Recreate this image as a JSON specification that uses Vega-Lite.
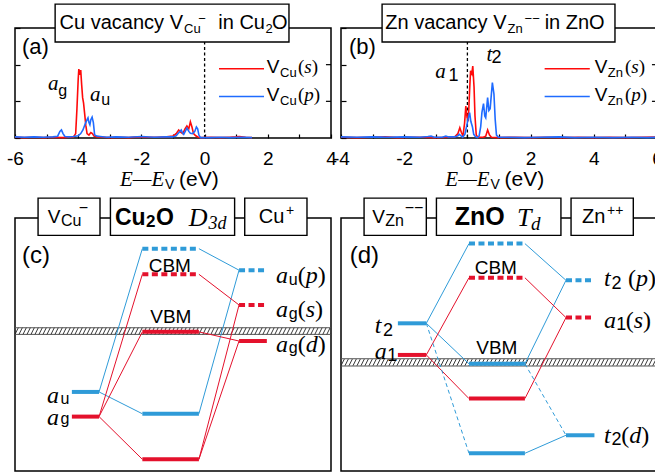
{
"$schema":"https://vega.github.io/schema/vega-lite/v6.json",
"padding":{"left":5,"top":2,"right":0,"bottom":0},
"config":{"view":{"stroke":"black","strokeWidth":1.5}},
"datasets":{
"dos_a":[
{"E":-6,"dos":0.02,"orb":"s"},{"E":-5.7,"dos":0.01,"orb":"s"},{"E":-5.4,"dos":0.02,"orb":"s"},{"E":-5.1,"dos":0.01,"orb":"s"},{"E":-4.8,"dos":0.02,"orb":"s"},{"E":-4.5,"dos":0.01,"orb":"s"},{"E":-4.3,"dos":0.02,"orb":"s"},{"E":-4.15,"dos":0.03,"orb":"s"},{"E":-4.08,"dos":0.12,"orb":"s"},{"E":-4.04,"dos":0.8,"orb":"s"},{"E":-4.0,"dos":1.6,"orb":"s"},{"E":-3.98,"dos":1.88,"orb":"s"},{"E":-3.95,"dos":1.72,"orb":"s"},{"E":-3.92,"dos":1.85,"orb":"s"},{"E":-3.89,"dos":1.45,"orb":"s"},{"E":-3.86,"dos":1.1,"orb":"s"},{"E":-3.83,"dos":0.95,"orb":"s"},{"E":-3.8,"dos":0.7,"orb":"s"},{"E":-3.76,"dos":0.35,"orb":"s"},{"E":-3.72,"dos":0.12,"orb":"s"},{"E":-3.66,"dos":0.08,"orb":"s"},{"E":-3.6,"dos":0.15,"orb":"s"},{"E":-3.55,"dos":0.12,"orb":"s"},{"E":-3.5,"dos":0.05,"orb":"s"},{"E":-3.4,"dos":0.03,"orb":"s"},{"E":-3.2,"dos":0.02,"orb":"s"},{"E":-3.0,"dos":0.01,"orb":"s"},{"E":-2.7,"dos":0.02,"orb":"s"},{"E":-2.4,"dos":0.01,"orb":"s"},{"E":-2.1,"dos":0.03,"orb":"s"},{"E":-1.8,"dos":0.02,"orb":"s"},{"E":-1.5,"dos":0.02,"orb":"s"},{"E":-1.2,"dos":0.03,"orb":"s"},{"E":-1.0,"dos":0.05,"orb":"s"},{"E":-0.9,"dos":0.12,"orb":"s"},{"E":-0.82,"dos":0.22,"orb":"s"},{"E":-0.75,"dos":0.15,"orb":"s"},{"E":-0.69,"dos":0.12,"orb":"s"},{"E":-0.62,"dos":0.25,"orb":"s"},{"E":-0.56,"dos":0.33,"orb":"s"},{"E":-0.5,"dos":0.25,"orb":"s"},{"E":-0.45,"dos":0.44,"orb":"s"},{"E":-0.4,"dos":0.3,"orb":"s"},{"E":-0.35,"dos":0.12,"orb":"s"},{"E":-0.28,"dos":0.06,"orb":"s"},{"E":-0.2,"dos":0.02,"orb":"s"},{"E":-0.1,"dos":0.01,"orb":"s"},{"E":0.2,"dos":0.02,"orb":"s"},{"E":0.5,"dos":0.01,"orb":"s"},{"E":0.8,"dos":0.02,"orb":"s"},{"E":1.0,"dos":0.03,"orb":"s"},{"E":1.1,"dos":0.04,"orb":"s"},{"E":1.3,"dos":0.02,"orb":"s"},{"E":1.5,"dos":0.01,"orb":"s"},
{"E":-6,"dos":0.03,"orb":"p"},{"E":-5.7,"dos":0.02,"orb":"p"},{"E":-5.4,"dos":0.03,"orb":"p"},{"E":-5.1,"dos":0.02,"orb":"p"},{"E":-4.8,"dos":0.03,"orb":"p"},{"E":-4.65,"dos":0.05,"orb":"p"},{"E":-4.58,"dos":0.18,"orb":"p"},{"E":-4.53,"dos":0.22,"orb":"p"},{"E":-4.48,"dos":0.12,"orb":"p"},{"E":-4.42,"dos":0.04,"orb":"p"},{"E":-4.3,"dos":0.03,"orb":"p"},{"E":-4.15,"dos":0.04,"orb":"p"},{"E":-4.0,"dos":0.06,"orb":"p"},{"E":-3.92,"dos":0.12,"orb":"p"},{"E":-3.85,"dos":0.22,"orb":"p"},{"E":-3.78,"dos":0.38,"orb":"p"},{"E":-3.72,"dos":0.5,"orb":"p"},{"E":-3.69,"dos":0.55,"orb":"p"},{"E":-3.66,"dos":0.42,"orb":"p"},{"E":-3.63,"dos":0.36,"orb":"p"},{"E":-3.6,"dos":0.5,"orb":"p"},{"E":-3.56,"dos":0.57,"orb":"p"},{"E":-3.52,"dos":0.42,"orb":"p"},{"E":-3.48,"dos":0.08,"orb":"p"},{"E":-3.4,"dos":0.05,"orb":"p"},{"E":-3.3,"dos":0.04,"orb":"p"},{"E":-3.1,"dos":0.02,"orb":"p"},{"E":-2.8,"dos":0.03,"orb":"p"},{"E":-2.4,"dos":0.02,"orb":"p"},{"E":-2.0,"dos":0.04,"orb":"p"},{"E":-1.6,"dos":0.02,"orb":"p"},{"E":-1.2,"dos":0.03,"orb":"p"},{"E":-1.0,"dos":0.03,"orb":"p"},{"E":-0.9,"dos":0.06,"orb":"p"},{"E":-0.84,"dos":0.12,"orb":"p"},{"E":-0.78,"dos":0.18,"orb":"p"},{"E":-0.74,"dos":0.22,"orb":"p"},{"E":-0.7,"dos":0.14,"orb":"p"},{"E":-0.66,"dos":0.1,"orb":"p"},{"E":-0.6,"dos":0.2,"orb":"p"},{"E":-0.56,"dos":0.27,"orb":"p"},{"E":-0.5,"dos":0.18,"orb":"p"},{"E":-0.45,"dos":0.13,"orb":"p"},{"E":-0.38,"dos":0.12,"orb":"p"},{"E":-0.31,"dos":0.18,"orb":"p"},{"E":-0.26,"dos":0.3,"orb":"p"},{"E":-0.22,"dos":0.25,"orb":"p"},{"E":-0.18,"dos":0.08,"orb":"p"},{"E":-0.13,"dos":0.01,"orb":"p"},{"E":0.2,"dos":0.01,"orb":"p"},{"E":0.5,"dos":0.02,"orb":"p"},{"E":0.8,"dos":0.01,"orb":"p"},{"E":1.2,"dos":0.02,"orb":"p"},{"E":1.5,"dos":0.01,"orb":"p"}],
"dos_b":[
{"E":-4,"dos":0.02,"orb":"s"},{"E":-3.5,"dos":0.01,"orb":"s"},{"E":-3,"dos":0.02,"orb":"s"},{"E":-2.6,"dos":0.03,"orb":"s"},{"E":-2.2,"dos":0.01,"orb":"s"},{"E":-1.8,"dos":0.02,"orb":"s"},{"E":-1.4,"dos":0.02,"orb":"s"},{"E":-1.0,"dos":0.01,"orb":"s"},{"E":-0.6,"dos":0.02,"orb":"s"},{"E":-0.4,"dos":0.03,"orb":"s"},{"E":-0.3,"dos":0.12,"orb":"s"},{"E":-0.24,"dos":0.28,"orb":"s"},{"E":-0.19,"dos":0.15,"orb":"s"},{"E":-0.14,"dos":0.06,"orb":"s"},{"E":-0.09,"dos":0.4,"orb":"s"},{"E":-0.05,"dos":0.87,"orb":"s"},{"E":-0.01,"dos":0.55,"orb":"s"},{"E":0.03,"dos":0.5,"orb":"s"},{"E":0.07,"dos":1.3,"orb":"s"},{"E":0.1,"dos":1.83,"orb":"s"},{"E":0.14,"dos":1.75,"orb":"s"},{"E":0.17,"dos":1.96,"orb":"s"},{"E":0.21,"dos":1.4,"orb":"s"},{"E":0.24,"dos":0.6,"orb":"s"},{"E":0.28,"dos":0.08,"orb":"s"},{"E":0.33,"dos":0.02,"orb":"s"},{"E":0.5,"dos":0.02,"orb":"s"},{"E":0.58,"dos":0.05,"orb":"s"},{"E":0.64,"dos":0.22,"orb":"s"},{"E":0.7,"dos":0.08,"orb":"s"},{"E":0.76,"dos":0.02,"orb":"s"},{"E":1.0,"dos":0.01,"orb":"s"},{"E":1.5,"dos":0.02,"orb":"s"},{"E":2,"dos":0.01,"orb":"s"},{"E":2.5,"dos":0.02,"orb":"s"},{"E":3,"dos":0.01,"orb":"s"},{"E":3.5,"dos":0.02,"orb":"s"},{"E":4,"dos":0.01,"orb":"s"},{"E":4.5,"dos":0.02,"orb":"s"},{"E":5,"dos":0.01,"orb":"s"},{"E":5.5,"dos":0.02,"orb":"s"},{"E":6,"dos":0.03,"orb":"s"},
{"E":-4,"dos":0.03,"orb":"p"},{"E":-3.5,"dos":0.02,"orb":"p"},{"E":-3,"dos":0.03,"orb":"p"},{"E":-2.5,"dos":0.02,"orb":"p"},{"E":-2,"dos":0.03,"orb":"p"},{"E":-1.5,"dos":0.02,"orb":"p"},{"E":-1.25,"dos":0.04,"orb":"p"},{"E":-1.15,"dos":0.05,"orb":"p"},{"E":-1.05,"dos":0.02,"orb":"p"},{"E":-0.8,"dos":0.02,"orb":"p"},{"E":-0.68,"dos":0.05,"orb":"p"},{"E":-0.6,"dos":0.03,"orb":"p"},{"E":-0.4,"dos":0.03,"orb":"p"},{"E":-0.3,"dos":0.06,"orb":"p"},{"E":-0.26,"dos":0.1,"orb":"p"},{"E":-0.2,"dos":0.06,"orb":"p"},{"E":-0.15,"dos":0.02,"orb":"p"},{"E":-0.08,"dos":0.1,"orb":"p"},{"E":-0.03,"dos":0.3,"orb":"p"},{"E":0.03,"dos":0.55,"orb":"p"},{"E":0.07,"dos":0.69,"orb":"p"},{"E":0.11,"dos":0.45,"orb":"p"},{"E":0.16,"dos":0.3,"orb":"p"},{"E":0.2,"dos":0.1,"orb":"p"},{"E":0.26,"dos":0.03,"orb":"p"},{"E":0.32,"dos":0.01,"orb":"p"},{"E":0.37,"dos":0.05,"orb":"p"},{"E":0.42,"dos":0.3,"orb":"p"},{"E":0.46,"dos":0.7,"orb":"p"},{"E":0.51,"dos":0.94,"orb":"p"},{"E":0.55,"dos":0.6,"orb":"p"},{"E":0.58,"dos":0.55,"orb":"p"},{"E":0.64,"dos":1.1,"orb":"p"},{"E":0.68,"dos":0.75,"orb":"p"},{"E":0.72,"dos":0.8,"orb":"p"},{"E":0.79,"dos":1.51,"orb":"p"},{"E":0.84,"dos":1.2,"orb":"p"},{"E":0.88,"dos":0.5,"orb":"p"},{"E":0.92,"dos":0.08,"orb":"p"},{"E":0.98,"dos":0.02,"orb":"p"},{"E":1.3,"dos":0.02,"orb":"p"},{"E":1.8,"dos":0.01,"orb":"p"},{"E":2.3,"dos":0.02,"orb":"p"},{"E":2.9,"dos":0.03,"orb":"p"},{"E":3.4,"dos":0.01,"orb":"p"},{"E":4,"dos":0.02,"orb":"p"},{"E":4.6,"dos":0.01,"orb":"p"},{"E":5.2,"dos":0.02,"orb":"p"},{"E":5.7,"dos":0.01,"orb":"p"},{"E":6,"dos":0.02,"orb":"p"}],
"levels_c":[
{"x":1.8,"x2":2.66,"E":2.5,"irrep":"a_u","state":"occupied"},
{"x":1.8,"x2":2.66,"E":1.72,"irrep":"a_g","state":"occupied"},
{"x":4.03,"x2":5.82,"E":7.03,"irrep":"a_u","state":"empty"},
{"x":4.03,"x2":5.82,"E":6.22,"irrep":"a_g","state":"empty"},
{"x":4.03,"x2":5.82,"E":4.4,"irrep":"a_g","state":"occupied"},
{"x":4.03,"x2":5.82,"E":1.81,"irrep":"a_u","state":"occupied"},
{"x":4.03,"x2":5.82,"E":0.37,"irrep":"a_g","state":"occupied"},
{"x":7.09,"x2":7.97,"E":6.35,"irrep":"a_u","state":"empty"},
{"x":7.09,"x2":7.97,"E":5.25,"irrep":"a_g","state":"empty"},
{"x":7.09,"x2":7.97,"E":4.11,"irrep":"a_g","state":"occupied"}],
"links_c":[
{"x":2.66,"E":2.5,"x2":4.03,"E2":7.03,"irrep":"a_u","style":"solid"},
{"x":2.66,"E":2.5,"x2":4.03,"E2":1.81,"irrep":"a_u","style":"solid"},
{"x":5.82,"E":7.03,"x2":7.09,"E2":6.35,"irrep":"a_u","style":"solid"},
{"x":5.82,"E":1.81,"x2":7.09,"E2":6.35,"irrep":"a_u","style":"solid"},
{"x":2.66,"E":1.72,"x2":4.03,"E2":6.22,"irrep":"a_g","style":"solid"},
{"x":2.66,"E":1.72,"x2":4.03,"E2":4.4,"irrep":"a_g","style":"solid"},
{"x":2.66,"E":1.72,"x2":4.03,"E2":0.37,"irrep":"a_g","style":"solid"},
{"x":5.82,"E":6.22,"x2":7.09,"E2":5.25,"irrep":"a_g","style":"solid"},
{"x":5.82,"E":4.4,"x2":7.09,"E2":4.11,"irrep":"a_g","style":"solid"},
{"x":5.82,"E":0.37,"x2":7.09,"E2":5.25,"irrep":"a_g","style":"solid"},
{"x":5.82,"E":0.37,"x2":7.09,"E2":4.11,"irrep":"a_g","style":"solid"}],
"levels_d":[
{"x":1.8,"x2":2.7,"E":4.67,"irrep":"t_2","state":"occupied"},
{"x":1.8,"x2":2.7,"E":3.67,"irrep":"a_1","state":"occupied"},
{"x":4.05,"x2":5.82,"E":7.19,"irrep":"t_2","state":"empty"},
{"x":4.05,"x2":5.82,"E":6.11,"irrep":"a_1","state":"empty"},
{"x":4.05,"x2":5.82,"E":3.39,"irrep":"t_2","state":"occupied"},
{"x":4.05,"x2":5.82,"E":2.29,"irrep":"a_1","state":"occupied"},
{"x":4.05,"x2":5.82,"E":0.56,"irrep":"t_2","state":"occupied"},
{"x":7.12,"x2":8.02,"E":6.03,"irrep":"t_2","state":"empty"},
{"x":7.12,"x2":8.02,"E":4.85,"irrep":"a_1","state":"empty"},
{"x":7.12,"x2":8.02,"E":1.13,"irrep":"t_2","state":"occupied"}],
"links_d":[
{"x":2.7,"E":4.67,"x2":4.05,"E2":7.19,"irrep":"t_2","style":"solid"},
{"x":2.7,"E":4.67,"x2":4.05,"E2":3.39,"irrep":"t_2","style":"solid"},
{"x":5.82,"E":7.19,"x2":7.12,"E2":6.03,"irrep":"t_2","style":"solid"},
{"x":5.82,"E":3.39,"x2":7.12,"E2":6.03,"irrep":"t_2","style":"solid"},
{"x":5.82,"E":0.56,"x2":7.12,"E2":1.13,"irrep":"t_2","style":"solid"},
{"x":2.7,"E":4.67,"x2":4.05,"E2":0.56,"irrep":"t_2","style":"dashed"},
{"x":5.82,"E":3.39,"x2":7.12,"E2":1.13,"irrep":"t_2","style":"dashed"},
{"x":2.7,"E":3.67,"x2":4.05,"E2":6.11,"irrep":"a_1","style":"solid"},
{"x":2.7,"E":3.67,"x2":4.05,"E2":2.29,"irrep":"a_1","style":"solid"},
{"x":5.82,"E":6.11,"x2":7.12,"E2":4.85,"irrep":"a_1","style":"solid"},
{"x":5.82,"E":2.29,"x2":7.12,"E2":4.85,"irrep":"a_1","style":"solid"}]
},
"resolve":{"scale":{"color":"independent"}},
"columns":2,
"spacing":{"row":80,"column":10},
"bounds":"flush",
"concat":[
{"width":316,"height":110,
"encoding":{
"x":{"field":"E","type":"quantitative","scale":{"domain":[-6,4],"nice":false,"zero":false},"axis":{"values":[-6,-5,-4,-3,-2,-1,0,1,2,3,4],"labelExpr":"datum.value % 2 == 0 ? '' + datum.value : ''","title":null,"tickSize":-4,"labelPadding":15,"labelFontSize":19,"labelFont":"Liberation Sans","labelColor":"black","tickColor":"black","tickWidth":1.2,"domain":false,"grid":false,"labelFlush":false,"labelOverlap":false}},
"y":{"field":"dos","type":"quantitative","scale":{"domain":[0,3],"nice":false,"zero":false},"axis":{"values":[0,1,2,3],"labels":false,"title":null,"tickSize":-5,"tickColor":"black","tickWidth":1.2,"domain":false,"grid":false}}},
"layer":[
{"data":{"values":[{"E":3.84,"E2":4,"dos":1},{"E":3.84,"E2":4,"dos":2}]},"mark":{"type":"rule","color":"black","strokeWidth":1.2},"encoding":{"x2":{"field":"E2"}}},
{"data":{"values":[{"E":0,"dos":0,"dos2":3}]},"mark":{"type":"rule","strokeDash":[3,2.5],"color":"black","strokeWidth":1.3},"encoding":{"y2":{"field":"dos2"}}},
{"data":{"name":"dos_a"},"mark":{"type":"line","strokeWidth":1.6},"encoding":{"color":{"field":"orb","type":"nominal","scale":{"domain":["s","p"],"range":["#ff0a0a","#1f6bff"]},"legend":null}}},
{"data":{"values":[{"E":0.456,"E2":1.88,"dos":1.89,"orb":"s"},{"E":0.456,"E2":1.88,"dos":1.13,"orb":"p"}]},"mark":{"type":"rule","strokeWidth":1.6},"encoding":{"x2":{"field":"E2"},"color":{"field":"orb","type":"nominal","scale":{"domain":["s","p"],"range":["#ff0a0a","#1f6bff"]},"legend":null}}},
{"data":{"values":[{"E":-4.73,"E2":2.67,"dos":2.62,"dos2":3.65}]},"mark":{"type":"rect","fill":"white","stroke":"black","strokeWidth":1.4},"encoding":{"x2":{"field":"E2"},"y2":{"field":"dos2"}}},
{"data":{"values":[{"E":-0.684,"dos":2.965,"t":"Cu vacancy V"},{"E":1.911,"dos":2.965,"t":"in Cu"}]},"mark":{"type":"text","font":"Liberation Sans","fontSize":20,"align":"right","baseline":"alphabetic","fill":"black"},"encoding":{"text":{"field":"t"}}},
{"data":{"values":[{"E":2.133,"dos":2.965,"t":"O"}]},"mark":{"type":"text","font":"Liberation Sans","fontSize":20,"align":"left","baseline":"alphabetic","fill":"black"},"encoding":{"text":{"field":"t"}}},
{"data":{"values":[{"E":2.37,"dos":1.78,"t":"V"},{"E":2.37,"dos":1.01,"t":"V"}]},"mark":{"type":"text","font":"Liberation Sans","fontSize":19,"align":"right","baseline":"alphabetic","fill":"black"},"encoding":{"text":{"field":"t"}}},
{"data":{"values":[{"E":-0.652,"dos":2.872,"t":"Cu"},{"E":-0.2,"dos":3.128,"t":"−"},{"E":1.93,"dos":2.872,"t":"2"},{"E":2.386,"dos":1.664,"t":"Cu"},{"E":2.386,"dos":0.9,"t":"Cu"}]},"mark":{"type":"text","font":"Liberation Sans","fontSize":13,"align":"left","baseline":"alphabetic","fill":"black"},"encoding":{"text":{"field":"t"}}},
{"data":{"values":[{"E":2.956,"dos":1.78,"t":"("},{"E":3.389,"dos":1.78,"t":")"},{"E":2.956,"dos":1.01,"t":"("},{"E":3.456,"dos":1.01,"t":")"}]},"mark":{"type":"text","font":"Liberation Serif","fontSize":19,"align":"left","baseline":"alphabetic","fill":"black"},"encoding":{"text":{"field":"t"}}},
{"data":{"values":[{"E":3.155,"dos":1.78,"t":"s"},{"E":3.155,"dos":1.01,"t":"p"}]},"mark":{"type":"text","font":"Liberation Serif","fontStyle":"italic","fontSize":19,"align":"left","baseline":"alphabetic","fill":"black"},"encoding":{"text":{"field":"t"}}},
{"data":{"values":[{"E":-4.956,"dos":1.3,"t":"a"},{"E":-3.627,"dos":1.01,"t":"a"},{"E":-2.677,"dos":-1.309,"t":"E—E"}]},"mark":{"type":"text","font":"Liberation Serif","fontStyle":"italic","fontSize":21,"align":"left","baseline":"alphabetic","fill":"black"},"encoding":{"text":{"field":"t"}}},
{"data":{"values":[{"E":-4.63,"dos":1.146,"t":"g"},{"E":-3.27,"dos":0.9,"t":"u"}]},"mark":{"type":"text","font":"Liberation Sans","fontSize":16,"align":"left","baseline":"alphabetic","fill":"black"},"encoding":{"text":{"field":"t"}}},
{"data":{"values":[{"E":-1.253,"dos":-1.39,"t":"V"}]},"mark":{"type":"text","font":"Liberation Sans","fontSize":14,"align":"left","baseline":"alphabetic","fill":"black"},"encoding":{"text":{"field":"t"}}},
{"data":{"values":[{"E":-0.81,"dos":-1.309,"t":"(eV)"}]},"mark":{"type":"text","font":"Liberation Sans","fontSize":21,"align":"left","baseline":"alphabetic","fill":"black"},"encoding":{"text":{"field":"t"}}},
{"data":{"values":[{"E":-5.78,"dos":2.29,"t":"(a)"}]},"mark":{"type":"text","font":"Liberation Sans","fontSize":22,"align":"left","baseline":"alphabetic","fill":"black"},"encoding":{"text":{"field":"t"}}}
]},
{"width":316,"height":110,
"encoding":{
"x":{"field":"E","type":"quantitative","scale":{"domain":[-4,6],"nice":false,"zero":false},"axis":{"values":[-4,-3,-2,-1,0,1,2,3,4,5,6],"labelExpr":"datum.value % 2 == 0 ? '' + datum.value : ''","title":null,"tickSize":-4,"labelPadding":15,"labelFontSize":19,"labelFont":"Liberation Sans","labelColor":"black","tickColor":"black","tickWidth":1.2,"domain":false,"grid":false,"labelFlush":false,"labelOverlap":false}},
"y":{"field":"dos","type":"quantitative","scale":{"domain":[0,3],"nice":false,"zero":false},"axis":{"values":[0,1,2,3],"labels":false,"title":null,"tickSize":-5,"tickColor":"black","tickWidth":1.2,"domain":false,"grid":false}}},
"layer":[
{"data":{"values":[{"E":5.84,"E2":6,"dos":1},{"E":5.84,"E2":6,"dos":2}]},"mark":{"type":"rule","color":"black","strokeWidth":1.2},"encoding":{"x2":{"field":"E2"}}},
{"data":{"values":[{"E":0,"dos":0,"dos2":3}]},"mark":{"type":"rule","strokeDash":[3,2.5],"color":"black","strokeWidth":1.3},"encoding":{"y2":{"field":"dos2"}}},
{"data":{"name":"dos_b"},"mark":{"type":"line","strokeWidth":1.6},"encoding":{"color":{"field":"orb","type":"nominal","scale":{"domain":["s","p"],"range":["#ff0a0a","#1f6bff"]},"legend":null}}},
{"data":{"values":[{"E":2.444,"E2":3.873,"dos":1.89,"orb":"s"},{"E":2.444,"E2":3.873,"dos":1.13,"orb":"p"}]},"mark":{"type":"rule","strokeWidth":1.6},"encoding":{"x2":{"field":"E2"},"color":{"field":"orb","type":"nominal","scale":{"domain":["s","p"],"range":["#ff0a0a","#1f6bff"]},"legend":null}}},
{"data":{"values":[{"E":-2.7,"E2":4.67,"dos":2.62,"dos2":3.65}]},"mark":{"type":"rect","fill":"white","stroke":"black","strokeWidth":1.4},"encoding":{"x2":{"field":"E2"},"y2":{"field":"dos2"}}},
{"data":{"values":[{"E":1.238,"dos":2.965,"t":"Zn vacancy V"}]},"mark":{"type":"text","font":"Liberation Sans","fontSize":20,"align":"right","baseline":"alphabetic","fill":"black"},"encoding":{"text":{"field":"t"}}},
{"data":{"values":[{"E":2.444,"dos":2.965,"t":"in ZnO"}]},"mark":{"type":"text","font":"Liberation Sans","fontSize":20,"align":"left","baseline":"alphabetic","fill":"black"},"encoding":{"text":{"field":"t"}}},
{"data":{"values":[{"E":4.43,"dos":1.78,"t":"V"},{"E":4.43,"dos":1.01,"t":"V"}]},"mark":{"type":"text","font":"Liberation Sans","fontSize":19,"align":"right","baseline":"alphabetic","fill":"black"},"encoding":{"text":{"field":"t"}}},
{"data":{"values":[{"E":1.27,"dos":2.872,"t":"Zn"},{"E":1.81,"dos":3.128,"t":"−−"},{"E":4.444,"dos":1.664,"t":"Zn"},{"E":4.444,"dos":0.9,"t":"Zn"}]},"mark":{"type":"text","font":"Liberation Sans","fontSize":13,"align":"left","baseline":"alphabetic","fill":"black"},"encoding":{"text":{"field":"t"}}},
{"data":{"values":[{"E":4.984,"dos":1.78,"t":"("},{"E":5.419,"dos":1.78,"t":")"},{"E":4.984,"dos":1.01,"t":"("},{"E":5.486,"dos":1.01,"t":")"}]},"mark":{"type":"text","font":"Liberation Serif","fontSize":19,"align":"left","baseline":"alphabetic","fill":"black"},"encoding":{"text":{"field":"t"}}},
{"data":{"values":[{"E":5.184,"dos":1.78,"t":"s"},{"E":5.184,"dos":1.01,"t":"p"}]},"mark":{"type":"text","font":"Liberation Serif","fontStyle":"italic","fontSize":19,"align":"left","baseline":"alphabetic","fill":"black"},"encoding":{"text":{"field":"t"}}},
{"data":{"values":[{"E":-1.016,"dos":1.645,"t":"a"},{"E":0.603,"dos":2.1,"t":"t"},{"E":-0.698,"dos":-1.309,"t":"E—E"}]},"mark":{"type":"text","font":"Liberation Serif","fontStyle":"italic","fontSize":21,"align":"left","baseline":"alphabetic","fill":"black"},"encoding":{"text":{"field":"t"}}},
{"data":{"values":[{"E":-0.6,"dos":1.555,"t":"1"},{"E":0.762,"dos":2.05,"t":"2"}]},"mark":{"type":"text","font":"Liberation Sans","fontSize":18,"align":"left","baseline":"alphabetic","fill":"black"},"encoding":{"text":{"field":"t"}}},
{"data":{"values":[{"E":0.73,"dos":-1.39,"t":"V"}]},"mark":{"type":"text","font":"Liberation Sans","fontSize":14,"align":"left","baseline":"alphabetic","fill":"black"},"encoding":{"text":{"field":"t"}}},
{"data":{"values":[{"E":1.175,"dos":-1.309,"t":"(eV)"}]},"mark":{"type":"text","font":"Liberation Sans","fontSize":21,"align":"left","baseline":"alphabetic","fill":"black"},"encoding":{"text":{"field":"t"}}},
{"data":{"values":[{"E":-3.75,"dos":2.29,"t":"(b)"}]},"mark":{"type":"text","font":"Liberation Sans","fontSize":22,"align":"left","baseline":"alphabetic","fill":"black"},"encoding":{"text":{"field":"t"}}}
]},
{"width":316,"height":253,
"encoding":{
"x":{"field":"x","type":"quantitative","scale":{"domain":[0,10],"nice":false,"zero":false},"axis":null},
"y":{"field":"E","type":"quantitative","scale":{"domain":[0,8],"nice":false,"zero":false},"axis":null}},
"layer":[
{"data":{"values":[{"x":0,"x2":10,"E":4.32},{"x":0,"x2":10,"E":4.53}]},"mark":{"type":"rule","color":"#555555","strokeWidth":1},"encoding":{"x2":{"field":"x2"}}},
{"data":{"values":[{"x":5,"E":4.425}]},"mark":{"type":"point","clip":true,"filled":false,"opacity":1,"color":"#222222","strokeWidth":0.9,"size":99856,"shape":"M-1 .021l.021 -.042m.0043 .042l.021 -.042m.0043 .042l.021 -.042m.0043 .042l.021 -.042m.0043 .042l.021 -.042m.0043 .042l.021 -.042m.0043 .042l.021 -.042m.0043 .042l.021 -.042m.0043 .042l.021 -.042m.0043 .042l.021 -.042m.0043 .042l.021 -.042m.0043 .042l.021 -.042m.0043 .042l.021 -.042m.0043 .042l.021 -.042m.0043 .042l.021 -.042m.0043 .042l.021 -.042m.0043 .042l.021 -.042m.0043 .042l.021 -.042m.0043 .042l.021 -.042m.0043 .042l.021 -.042m.0043 .042l.021 -.042m.0043 .042l.021 -.042m.0043 .042l.021 -.042m.0043 .042l.021 -.042m.0043 .042l.021 -.042m.0043 .042l.021 -.042m.0043 .042l.021 -.042m.0043 .042l.021 -.042m.0043 .042l.021 -.042m.0043 .042l.021 -.042m.0043 .042l.021 -.042m.0043 .042l.021 -.042m.0043 .042l.021 -.042m.0043 .042l.021 -.042m.0043 .042l.021 -.042m.0043 .042l.021 -.042m.0043 .042l.021 -.042m.0043 .042l.021 -.042m.0043 .042l.021 -.042m.0043 .042l.021 -.042m.0043 .042l.021 -.042m.0043 .042l.021 -.042m.0043 .042l.021 -.042m.0043 .042l.021 -.042m.0043 .042l.021 -.042m.0043 .042l.021 -.042m.0043 .042l.021 -.042m.0043 .042l.021 -.042m.0043 .042l.021 -.042m.0043 .042l.021 -.042m.0043 .042l.021 -.042m.0043 .042l.021 -.042m.0043 .042l.021 -.042m.0043 .042l.021 -.042m.0043 .042l.021 -.042m.0043 .042l.021 -.042m.0043 .042l.021 -.042m.0043 .042l.021 -.042m.0043 .042l.021 -.042m.0043 .042l.021 -.042m.0043 .042l.021 -.042m.0043 .042l.021 -.042m.0043 .042l.021 -.042m.0043 .042l.021 -.042m.0043 .042l.021 -.042m.0043 .042l.021 -.042m.0043 .042l.021 -.042m.0043 .042l.021 -.042m.0043 .042l.021 -.042m.0043 .042l.021 -.042m.0043 .042l.021 -.042m.0043 .042l.021 -.042m.0043 .042l.021 -.042m.0043 .042l.021 -.042m.0043 .042l.021 -.042m.0043 .042l.021 -.042m.0043 .042l.021 -.042m.0043 .042l.021 -.042m.0043 .042l.021 -.042m.0043 .042l.021 -.042m.0043 .042l.021 -.042m.0043 .042l.021 -.042m.0043 .042l.021 -.042m.0043 .042l.021 -.042m.0043 .042l.021 -.042m.0043 .042l.021 -.042m.0043 .042l.021 -.042m.0043 .042l.021 -.042m.0043 .042l.021 -.042m.0043 .042l.021 -.042m.0043 .042l.021 -.042m.0043 .042l.021 -.042m.0043 .042l.021 -.042"}},
{"data":{"name":"links_c"},"transform":[{"filter":"datum.style == 'solid'"}],"mark":{"type":"rule","strokeWidth":1},"encoding":{"x2":{"field":"x2"},"y2":{"field":"E2"},"color":{"field":"irrep","type":"nominal","scale":{"domain":["a_g","a_u","a_1","t_2"],"range":["#e4112c","#2f9bd8","#e4112c","#2f9bd8"]},"legend":null}}},
{"data":{"name":"levels_c"},"transform":[{"filter":"datum.state == 'occupied'"}],"mark":{"type":"rule","strokeWidth":4,"strokeCap":"butt"},"encoding":{"x2":{"field":"x2"},"color":{"field":"irrep","type":"nominal","scale":{"domain":["a_g","a_u","a_1","t_2"],"range":["#e4112c","#2f9bd8","#e4112c","#2f9bd8"]},"legend":null}}},
{"data":{"name":"levels_c"},"transform":[{"filter":"datum.state == 'empty'"}],"mark":{"type":"rule","strokeWidth":4,"strokeCap":"butt","strokeDash":[6,3.5]},"encoding":{"x2":{"field":"x2"},"color":{"field":"irrep","type":"nominal","scale":{"domain":["a_g","a_u","a_1","t_2"],"range":["#e4112c","#2f9bd8","#e4112c","#2f9bd8"]},"legend":null}}},
{"data":{"values":[{"x":0.73,"x2":2.69,"E":7.45,"E2":8.63},{"x":3.02,"x2":6.95,"E":7.45,"E2":8.63},{"x":7.27,"x2":9.24,"E":7.45,"E2":8.63}]},"mark":{"type":"rect","fill":"white","stroke":"black","strokeWidth":1.4},"encoding":{"x2":{"field":"x2"},"y2":{"field":"E2"}}},
{"data":{"values":[{"x":1.44,"E":7.84,"t":"V"}]},"mark":{"type":"text","font":"Liberation Sans","fontSize":19,"align":"right","baseline":"alphabetic","fill":"black"},"encoding":{"text":{"field":"t"}}},
{"data":{"values":[{"x":4.23,"E":6.29,"t":"CBM"},{"x":4.28,"E":4.69,"t":"VBM"}]},"mark":{"type":"text","font":"Liberation Sans","fontSize":19,"align":"left","baseline":"alphabetic","fill":"black"},"encoding":{"text":{"field":"t"}}},
{"data":{"values":[{"x":1.456,"E":7.76,"t":"Cu"},{"x":2.016,"E":8.17,"t":"−"},{"x":1.44,"E":2.11,"t":"u"},{"x":1.44,"E":1.476,"t":"g"},{"x":8.66,"E":5.88,"t":"u"},{"x":8.66,"E":4.82,"t":"g"},{"x":8.66,"E":3.72,"t":"g"}]},"mark":{"type":"text","font":"Liberation Sans","fontSize":16,"align":"left","baseline":"alphabetic","fill":"black"},"encoding":{"text":{"field":"t"}}},
{"data":{"values":[{"x":3.165,"E":7.79,"t":"Cu"},{"x":4.46,"E":7.79,"t":"O"}]},"mark":{"type":"text","font":"Liberation Sans","fontWeight":"bold","fontSize":23,"align":"left","baseline":"alphabetic","fill":"black"},"encoding":{"text":{"field":"t"}}},
{"data":{"values":[{"x":4.146,"E":7.72,"t":"2"}]},"mark":{"type":"text","font":"Liberation Sans","fontWeight":"bold","fontSize":17,"align":"left","baseline":"alphabetic","fill":"black"},"encoding":{"text":{"field":"t"}}},
{"data":{"values":[{"x":5.497,"E":7.74,"t":"D"}]},"mark":{"type":"text","font":"Liberation Serif","fontStyle":"italic","fontSize":26,"align":"left","baseline":"alphabetic","fill":"black"},"encoding":{"text":{"field":"t"}}},
{"data":{"values":[{"x":6.12,"E":7.65,"t":"3d"}]},"mark":{"type":"text","font":"Liberation Serif","fontStyle":"italic","fontSize":18,"align":"left","baseline":"alphabetic","fill":"black"},"encoding":{"text":{"field":"t"}}},
{"data":{"values":[{"x":7.712,"E":7.84,"t":"Cu"}]},"mark":{"type":"text","font":"Liberation Sans","fontSize":20,"align":"left","baseline":"alphabetic","fill":"black"},"encoding":{"text":{"field":"t"}}},
{"data":{"values":[{"x":8.576,"E":8.08,"t":"+"}]},"mark":{"type":"text","font":"Liberation Sans","fontSize":14,"align":"left","baseline":"alphabetic","fill":"black"},"encoding":{"text":{"field":"t"}}},
{"data":{"values":[{"x":0.22,"E":6.57,"t":"(c)"}]},"mark":{"type":"text","font":"Liberation Sans","fontSize":24,"align":"left","baseline":"alphabetic","fill":"black"},"encoding":{"text":{"field":"t"}}},
{"data":{"values":[{"x":1.013,"E":2.16,"t":"a"},{"x":1.013,"E":1.445,"t":"a"},{"x":8.26,"E":5.95,"t":"a"},{"x":8.26,"E":4.87,"t":"a"},{"x":8.26,"E":3.77,"t":"a"}]},"mark":{"type":"text","font":"Liberation Serif","fontStyle":"italic","fontSize":24,"align":"left","baseline":"alphabetic","fill":"black"},"encoding":{"text":{"field":"t"}}},
{"data":{"values":[{"x":8.946,"E":5.95,"t":"("},{"x":9.579,"E":5.95,"t":")"},{"x":8.946,"E":4.87,"t":"("},{"x":9.494,"E":4.87,"t":")"},{"x":8.946,"E":3.77,"t":"("},{"x":9.579,"E":3.77,"t":")"}]},"mark":{"type":"text","font":"Liberation Serif","fontSize":24,"align":"left","baseline":"alphabetic","fill":"black"},"encoding":{"text":{"field":"t"}}},
{"data":{"values":[{"x":9.199,"E":5.95,"t":"p"},{"x":9.199,"E":4.87,"t":"s"},{"x":9.199,"E":3.77,"t":"d"}]},"mark":{"type":"text","font":"Liberation Serif","fontStyle":"italic","fontSize":24,"align":"left","baseline":"alphabetic","fill":"black"},"encoding":{"text":{"field":"t"}}}
]},
{"width":316,"height":253,
"encoding":{
"x":{"field":"x","type":"quantitative","scale":{"domain":[0,10],"nice":false,"zero":false},"axis":null},
"y":{"field":"E","type":"quantitative","scale":{"domain":[0,8],"nice":false,"zero":false},"axis":null}},
"layer":[
{"data":{"values":[{"x":0,"x2":10,"E":3.32},{"x":0,"x2":10,"E":3.55}]},"mark":{"type":"rule","color":"#555555","strokeWidth":1},"encoding":{"x2":{"field":"x2"}}},
{"data":{"values":[{"x":5,"E":3.435}]},"mark":{"type":"point","clip":true,"filled":false,"opacity":1,"color":"#222222","strokeWidth":0.9,"size":99856,"shape":"M-1 .021l.021 -.042m.0043 .042l.021 -.042m.0043 .042l.021 -.042m.0043 .042l.021 -.042m.0043 .042l.021 -.042m.0043 .042l.021 -.042m.0043 .042l.021 -.042m.0043 .042l.021 -.042m.0043 .042l.021 -.042m.0043 .042l.021 -.042m.0043 .042l.021 -.042m.0043 .042l.021 -.042m.0043 .042l.021 -.042m.0043 .042l.021 -.042m.0043 .042l.021 -.042m.0043 .042l.021 -.042m.0043 .042l.021 -.042m.0043 .042l.021 -.042m.0043 .042l.021 -.042m.0043 .042l.021 -.042m.0043 .042l.021 -.042m.0043 .042l.021 -.042m.0043 .042l.021 -.042m.0043 .042l.021 -.042m.0043 .042l.021 -.042m.0043 .042l.021 -.042m.0043 .042l.021 -.042m.0043 .042l.021 -.042m.0043 .042l.021 -.042m.0043 .042l.021 -.042m.0043 .042l.021 -.042m.0043 .042l.021 -.042m.0043 .042l.021 -.042m.0043 .042l.021 -.042m.0043 .042l.021 -.042m.0043 .042l.021 -.042m.0043 .042l.021 -.042m.0043 .042l.021 -.042m.0043 .042l.021 -.042m.0043 .042l.021 -.042m.0043 .042l.021 -.042m.0043 .042l.021 -.042m.0043 .042l.021 -.042m.0043 .042l.021 -.042m.0043 .042l.021 -.042m.0043 .042l.021 -.042m.0043 .042l.021 -.042m.0043 .042l.021 -.042m.0043 .042l.021 -.042m.0043 .042l.021 -.042m.0043 .042l.021 -.042m.0043 .042l.021 -.042m.0043 .042l.021 -.042m.0043 .042l.021 -.042m.0043 .042l.021 -.042m.0043 .042l.021 -.042m.0043 .042l.021 -.042m.0043 .042l.021 -.042m.0043 .042l.021 -.042m.0043 .042l.021 -.042m.0043 .042l.021 -.042m.0043 .042l.021 -.042m.0043 .042l.021 -.042m.0043 .042l.021 -.042m.0043 .042l.021 -.042m.0043 .042l.021 -.042m.0043 .042l.021 -.042m.0043 .042l.021 -.042m.0043 .042l.021 -.042m.0043 .042l.021 -.042m.0043 .042l.021 -.042m.0043 .042l.021 -.042m.0043 .042l.021 -.042m.0043 .042l.021 -.042m.0043 .042l.021 -.042m.0043 .042l.021 -.042m.0043 .042l.021 -.042m.0043 .042l.021 -.042m.0043 .042l.021 -.042m.0043 .042l.021 -.042m.0043 .042l.021 -.042m.0043 .042l.021 -.042m.0043 .042l.021 -.042m.0043 .042l.021 -.042m.0043 .042l.021 -.042m.0043 .042l.021 -.042m.0043 .042l.021 -.042m.0043 .042l.021 -.042m.0043 .042l.021 -.042m.0043 .042l.021 -.042m.0043 .042l.021 -.042m.0043 .042l.021 -.042"}},
{"data":{"name":"links_d"},"transform":[{"filter":"datum.style == 'solid'"}],"mark":{"type":"rule","strokeWidth":1},"encoding":{"x2":{"field":"x2"},"y2":{"field":"E2"},"color":{"field":"irrep","type":"nominal","scale":{"domain":["a_g","a_u","a_1","t_2"],"range":["#e4112c","#2f9bd8","#e4112c","#2f9bd8"]},"legend":null}}},
{"data":{"name":"links_d"},"transform":[{"filter":"datum.style == 'dashed'"}],"mark":{"type":"rule","strokeWidth":1,"strokeDash":[4,3]},"encoding":{"x2":{"field":"x2"},"y2":{"field":"E2"},"color":{"field":"irrep","type":"nominal","scale":{"domain":["a_g","a_u","a_1","t_2"],"range":["#e4112c","#2f9bd8","#e4112c","#2f9bd8"]},"legend":null}}},
{"data":{"name":"levels_d"},"transform":[{"filter":"datum.state == 'occupied'"}],"mark":{"type":"rule","strokeWidth":4,"strokeCap":"butt"},"encoding":{"x2":{"field":"x2"},"color":{"field":"irrep","type":"nominal","scale":{"domain":["a_g","a_u","a_1","t_2"],"range":["#e4112c","#2f9bd8","#e4112c","#2f9bd8"]},"legend":null}}},
{"data":{"name":"levels_d"},"transform":[{"filter":"datum.state == 'empty'"}],"mark":{"type":"rule","strokeWidth":4,"strokeCap":"butt","strokeDash":[6,3.5]},"encoding":{"x2":{"field":"x2"},"color":{"field":"irrep","type":"nominal","scale":{"domain":["a_g","a_u","a_1","t_2"],"range":["#e4112c","#2f9bd8","#e4112c","#2f9bd8"]},"legend":null}}},
{"data":{"values":[{"x":0.73,"x2":2.7,"E":7.45,"E2":8.63},{"x":3.02,"x2":6.96,"E":7.45,"E2":8.63},{"x":7.28,"x2":9.25,"E":7.45,"E2":8.63}]},"mark":{"type":"rect","fill":"white","stroke":"black","strokeWidth":1.4},"encoding":{"x2":{"field":"x2"},"y2":{"field":"E2"}}},
{"data":{"values":[{"x":1.39,"E":7.84,"t":"V"}]},"mark":{"type":"text","font":"Liberation Sans","fontSize":19,"align":"right","baseline":"alphabetic","fill":"black"},"encoding":{"text":{"field":"t"}}},
{"data":{"values":[{"x":4.23,"E":6.22,"t":"CBM"},{"x":4.28,"E":3.69,"t":"VBM"}]},"mark":{"type":"text","font":"Liberation Sans","fontSize":19,"align":"left","baseline":"alphabetic","fill":"black"},"encoding":{"text":{"field":"t"}}},
{"data":{"values":[{"x":1.402,"E":7.76,"t":"Zn"},{"x":2.016,"E":8.17,"t":"−−"}]},"mark":{"type":"text","font":"Liberation Sans","fontSize":16,"align":"left","baseline":"alphabetic","fill":"black"},"encoding":{"text":{"field":"t"}}},
{"data":{"values":[{"x":3.598,"E":7.79,"t":"ZnO"}]},"mark":{"type":"text","font":"Liberation Sans","fontWeight":"bold","fontSize":25,"align":"left","baseline":"alphabetic","fill":"black"},"encoding":{"text":{"field":"t"}}},
{"data":{"values":[{"x":5.57,"E":7.74,"t":"T"}]},"mark":{"type":"text","font":"Liberation Serif","fontStyle":"italic","fontSize":26,"align":"left","baseline":"alphabetic","fill":"black"},"encoding":{"text":{"field":"t"}}},
{"data":{"values":[{"x":6.013,"E":7.63,"t":"d"}]},"mark":{"type":"text","font":"Liberation Serif","fontStyle":"italic","fontSize":19,"align":"left","baseline":"alphabetic","fill":"black"},"encoding":{"text":{"field":"t"}}},
{"data":{"values":[{"x":7.627,"E":7.84,"t":"Zn"}]},"mark":{"type":"text","font":"Liberation Sans","fontSize":20,"align":"left","baseline":"alphabetic","fill":"black"},"encoding":{"text":{"field":"t"}}},
{"data":{"values":[{"x":8.418,"E":8.08,"t":"++"}]},"mark":{"type":"text","font":"Liberation Sans","fontSize":14,"align":"left","baseline":"alphabetic","fill":"black"},"encoding":{"text":{"field":"t"}}},
{"data":{"values":[{"x":0.275,"E":6.57,"t":"(d)"}]},"mark":{"type":"text","font":"Liberation Sans","fontSize":24,"align":"left","baseline":"alphabetic","fill":"black"},"encoding":{"text":{"field":"t"}}},
{"data":{"values":[{"x":1.066,"E":4.37,"t":"t"},{"x":1.066,"E":3.53,"t":"a"},{"x":8.326,"E":5.85,"t":"t"},{"x":8.326,"E":4.53,"t":"a"},{"x":8.326,"E":0.895,"t":"t"}]},"mark":{"type":"text","font":"Liberation Serif","fontStyle":"italic","fontSize":24,"align":"left","baseline":"alphabetic","fill":"black"},"encoding":{"text":{"field":"t"}}},
{"data":{"values":[{"x":1.33,"E":4.27,"t":"2"},{"x":1.465,"E":3.48,"t":"1"},{"x":8.56,"E":5.76,"t":"2"},{"x":8.71,"E":4.46,"t":"1"},{"x":8.56,"E":0.81,"t":"2"}]},"mark":{"type":"text","font":"Liberation Sans","fontSize":18,"align":"left","baseline":"alphabetic","fill":"black"},"encoding":{"text":{"field":"t"}}},
{"data":{"values":[{"x":9.08,"E":5.85,"t":"("},{"x":9.713,"E":5.85,"t":")"},{"x":9.01,"E":4.53,"t":"("},{"x":9.558,"E":4.53,"t":")"},{"x":8.87,"E":0.895,"t":"("},{"x":9.503,"E":0.895,"t":")"}]},"mark":{"type":"text","font":"Liberation Serif","fontSize":24,"align":"left","baseline":"alphabetic","fill":"black"},"encoding":{"text":{"field":"t"}}},
{"data":{"values":[{"x":9.333,"E":5.85,"t":"p"},{"x":9.263,"E":4.53,"t":"s"},{"x":9.123,"E":0.895,"t":"d"}]},"mark":{"type":"text","font":"Liberation Serif","fontStyle":"italic","fontSize":24,"align":"left","baseline":"alphabetic","fill":"black"},"encoding":{"text":{"field":"t"}}}
]}
]
}
